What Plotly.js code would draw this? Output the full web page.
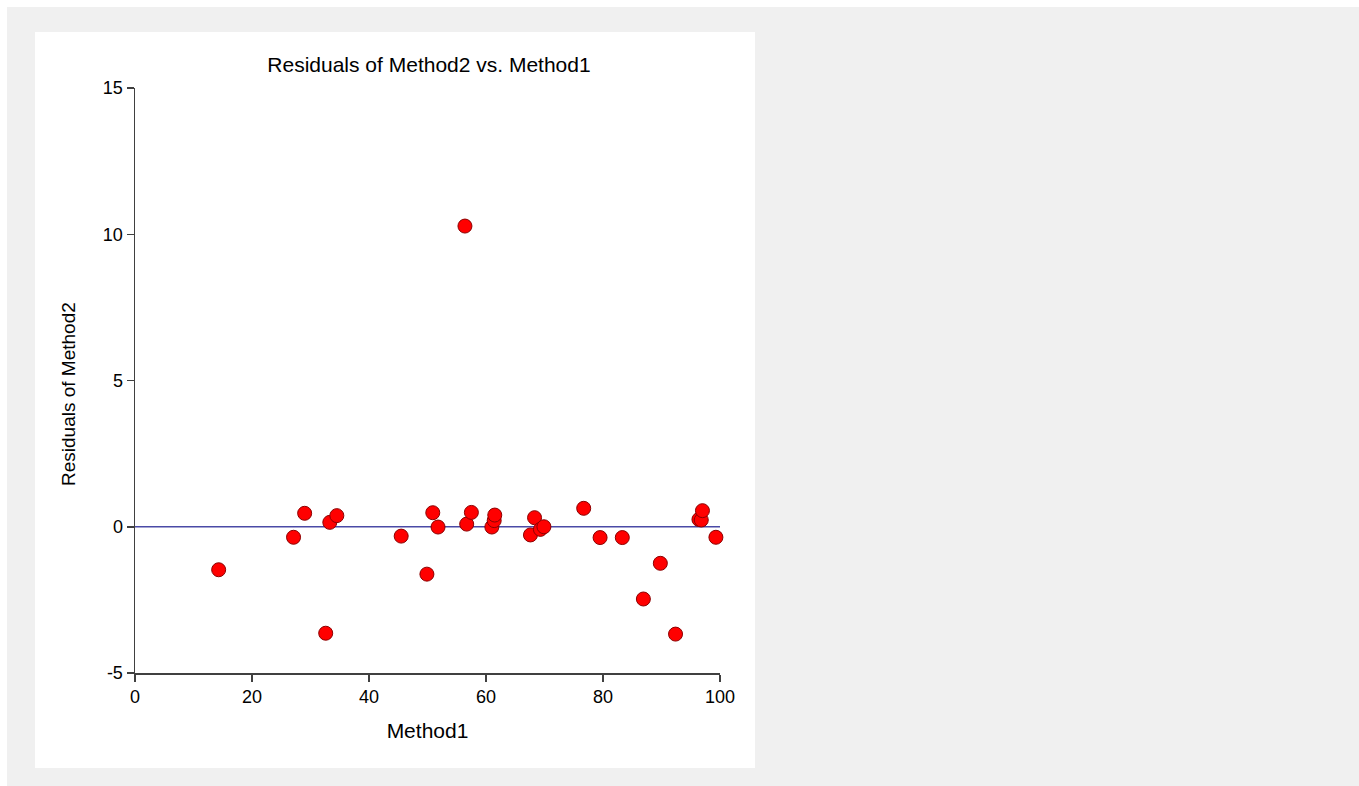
<!DOCTYPE html>
<html>
<head>
<meta charset="utf-8">
<script src="https://cdn.plot.ly/plotly-3.0.1.min.js"></script>
<style>html,body{margin:0;padding:0;background:#fff;}#chart{width:1359px;height:786px;}</style>
</head>
<body>
<div id="chart"></div>
<script>
// Method1 values (x) and residuals of Method2 (y)
const method1 = [14.3, 27.1, 29.0, 32.6, 33.3, 34.5, 45.5, 49.9, 50.9, 51.8,
                 56.4, 56.7, 57.5, 61.0, 61.4, 61.5, 67.6, 68.3, 69.3, 69.9,
                 76.7, 79.5, 83.3, 86.9, 89.8, 92.4, 96.4, 96.8, 97.0, 99.3];
const residuals = [-1.47, -0.36, 0.46, -3.64, 0.15, 0.38, -0.32, -1.62, 0.48, -0.01,
                   10.28, 0.09, 0.49, -0.01, 0.21, 0.40, -0.28, 0.31, -0.09, 0.0,
                   0.63, -0.37, -0.37, -2.47, -1.25, -3.67, 0.25, 0.23, 0.55, -0.36];
// zero reference line
const refX = [0, 100];
const refY = [0, 0];
const xTicks = [0, 20, 40, 60, 80, 100];
const yTicks = [-5, 0, 5, 10, 15];

// pixel -> paper helpers for the frame (plot area 135..720 x, 88..673 y)
const L = 135, T = 88, W = 585, H = 585;
const px = v => (v - L) / W;
const py = v => (T + H - v) / H;

const font = "Arial, 'Liberation Sans', sans-serif";

const data = [
  {x: refX, y: refY, mode: 'lines', type: 'scatter', hoverinfo: 'skip',
   line: {color: '#4a4aa6', width: 1.5}, cliponaxis: false},
  {x: method1, y: residuals, mode: 'markers', type: 'scatter', cliponaxis: false,
   marker: {color: '#ff0000', size: 14, line: {color: '#8b0000', width: 1}}}
];

const layout = {
  width: 1359, height: 786,
  showlegend: false,
  paper_bgcolor: '#ffffff',
  plot_bgcolor: 'rgba(0,0,0,0)',
  margin: {l: L, r: 1359 - L - W, t: T, b: 786 - T - H, pad: 0},
  font: {family: font, color: '#000000'},
  title: {text: 'Residuals of Method2 vs. Method1', font: {family: font, size: 21, color: '#000'},
          x: px(429), xref: 'paper', xanchor: 'center', y: 1 - 65/786, yref: 'container', yanchor: 'middle'},
  xaxis: {range: [0, 100], tickvals: xTicks, ticktext: xTicks.map(String), showgrid: false, zeroline: false,
          showline: true, linecolor: '#404040', linewidth: 1.5, ticks: 'outside', ticklen: 7,
          tickcolor: '#404040', tickwidth: 1.5, tickfont: {size: 18, family: font},
          title: {text: 'Method1', font: {size: 21, family: font}, standoff: 17}, fixedrange: true},
  yaxis: {range: [-5, 15], tickvals: yTicks, ticktext: yTicks.map(String), showgrid: false, zeroline: false,
          showline: true, linecolor: '#404040', linewidth: 1.5, ticks: 'outside', ticklen: 7,
          tickcolor: '#404040', tickwidth: 1.5, tickfont: {size: 18, family: font},
          title: {text: ''}, fixedrange: true},
  annotations: [
    {text: 'Residuals of Method2', xref: 'paper', yref: 'paper', x: px(69), y: py(394),
     xanchor: 'center', yanchor: 'middle', textangle: -90, showarrow: false,
     font: {size: 19, family: font, color: '#000'}}
  ],
  shapes: [
    {type: 'rect', xref: 'paper', yref: 'paper', layer: 'below',
     x0: px(7), x1: px(1359), y0: py(786), y1: py(7), fillcolor: '#f0f0f0', line: {width: 0}},
    {type: 'rect', xref: 'paper', yref: 'paper', layer: 'below',
     x0: px(35), x1: px(755), y0: py(768), y1: py(32), fillcolor: '#ffffff', line: {width: 0}}
  ]
};

Plotly.newPlot('chart', data, layout, {displayModeBar: false, staticPlot: true});
</script>
</body>
</html>
